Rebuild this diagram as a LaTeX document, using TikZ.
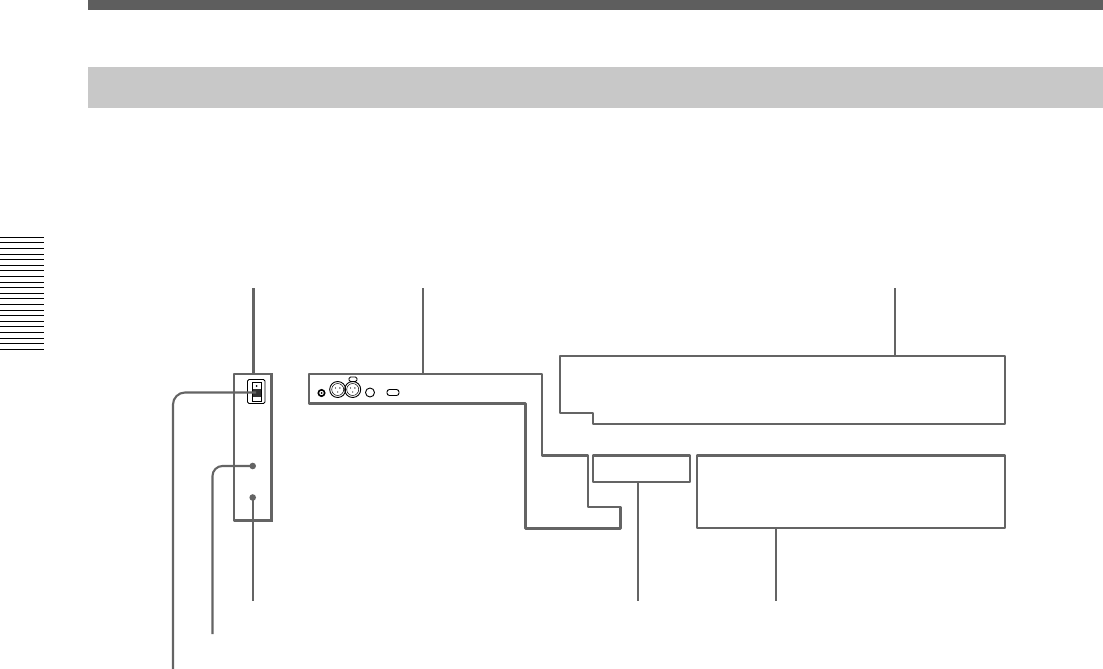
\documentclass[tikz,border=0pt]{standalone}
\usepackage{tikz}
\usetikzlibrary{calc,positioning}
\definecolor{LineGrey}{RGB}{100,100,100}
\definecolor{BandGrey}{RGB}{200,200,200}
\definecolor{TopGrey}{RGB}{94,94,94}

\begin{document}
\begin{tikzpicture}[x=1pt,y=-1pt,
    outline/.style={draw=LineGrey,line width=2.2pt,line join=round},
    leader/.style={draw=LineGrey,line width=2.1pt,line cap=butt},
    part/.style={draw=black,line width=0.9pt}]
  \useasboundingbox (0,0) rectangle (1103,669);
  % page bands
  \fill[TopGrey] (88,0) rectangle (1103,10.5);
  \fill[BandGrey] (88,67) rectangle (1103,107.5);
  % thumb tab
  \foreach \k in {0,...,20}
    \draw[black,line width=1pt] (0,{237.3+5.6*\k}) -- (44,{237.3+5.6*\k});
  % side panel
  \draw[outline] (234,374) rectangle (271.7,520.5);
  \draw[LineGrey,line width=3pt] (271.7,373) -- (271.7,521.5);
  \draw[part,rounded corners=1.5pt] (247.5,379.5) rectangle (265,403.5);
  \draw[part] (252.5,382.5) rectangle (261,401);
  \fill[black!80] (252.5,389) rectangle (261,397);
  \fill[black] (256.7,386) circle (1pt);
  % rear panel with its step
  \draw[outline] (309,374) -- (542,374) -- (542,455.5) -- (588,455.5) -- (588,507)
    -- (620.5,507) -- (620.5,528.5) -- (525.5,528.5) -- (525.5,403.5) -- (309,403.5) -- cycle;
  \draw[part,line width=1.6pt] (321.5,393) circle (3.2pt);
  \fill[black] (321.5,393) circle (1pt);
  \foreach \cx in {337.7,352.7} {
    \draw[part] (\cx,389.5) circle (8pt);
    \draw[part,line width=0.5pt] (\cx,389.5) circle (6pt);
    \fill[black] (\cx-2.2,388) circle (0.7pt) (\cx+2.2,388) circle (0.7pt) (\cx,392) circle (0.7pt);
  }
  \draw[part,rounded corners=1.5pt] (349,377) rectangle (357,381.5);
  \draw[part] (370,392.5) circle (4.5pt);
  \draw[part,rounded corners=2.5pt] (387,389.5) rectangle (399,395.5);
  % upper and lower boxes
  \draw[outline] (560,356) -- (1005,356) -- (1005,424) -- (593,424) -- (593,413) -- (560,413) -- cycle;
  \draw[outline] (593,455.5) rectangle (690,482);
  \draw[outline] (697,455.5) rectangle (1005,528);
  % leaders
  \coordinate (panelTop) at (253.5,374);
  \coordinate (panelEnd) at (253.5,288);
  \coordinate (rearTop) at (423,374);
  \coordinate (rearEnd) at (423,288);
  \coordinate (upperTop) at (895,356);
  \coordinate (upperEnd) at (895,288);
  \coordinate (smallBot) at (638,482);
  \coordinate (smallEnd) at (638,601);
  \coordinate (wideBot) at (776,528);
  \coordinate (wideEnd) at (776,601);
  \coordinate (dotLow) at (252.7,497.5);
  \coordinate (dotLowEnd) at (252.7,600.5);
  \coordinate (dotHigh) at (252.7,466);
  \coordinate (dotHighEnd) at (212.5,634);
  \coordinate (switchPt) at (256,392.5);
  \coordinate (switchEnd) at (173,669);
  \draw[leader] (panelEnd) -- (panelTop);
  \draw[leader] (rearEnd) -- (rearTop);
  \draw[leader] (upperEnd) -- (upperTop);
  \draw[leader] (smallBot) -- (smallEnd);
  \draw[leader] (wideBot) -- (wideEnd);
  \draw[leader] (dotLowEnd) -- (dotLow);
  \draw[leader,rounded corners=10pt] (dotHighEnd) |- (dotHigh);
  \draw[leader,rounded corners=12pt] (switchEnd) |- (switchPt);
  \fill[LineGrey] (dotLow) circle (3.3pt);
  \fill[LineGrey] (dotHigh) circle (3.3pt);
\end{tikzpicture}
\end{document}
